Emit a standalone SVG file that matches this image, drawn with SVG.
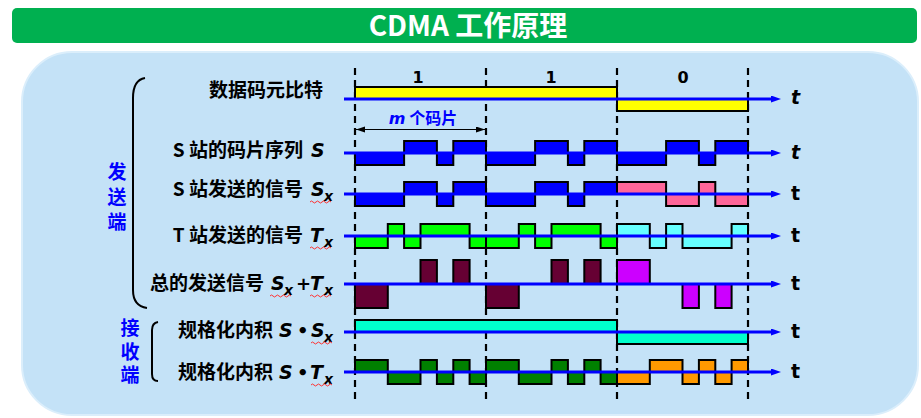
<svg xmlns="http://www.w3.org/2000/svg" width="921" height="418" viewBox="0 0 921 418">
<defs>
<style>
.cjk{font-family:"Noto Sans CJK SC","Noto Sans",sans-serif;font-weight:bold;font-size:19px;fill:#000}
.var{font-family:"DejaVu Sans",sans-serif;font-weight:bold;font-style:italic;font-size:19px;fill:#000}
.sub{font-family:"DejaVu Sans",sans-serif;font-weight:bold;font-style:italic;font-size:14px;fill:#000}
.op{font-family:"DejaVu Sans",sans-serif;font-weight:bold;font-size:18px;fill:#000}
.tl{font-family:"DejaVu Sans",sans-serif;font-weight:bold;font-size:19px;fill:#000}
.tli{font-family:"DejaVu Sans",sans-serif;font-weight:bold;font-style:italic;font-size:19px;fill:#000}
.bit{font-family:"DejaVu Sans",sans-serif;font-weight:bold;font-size:16px;fill:#000;text-anchor:middle}
.side{font-family:"Noto Sans CJK SC",sans-serif;font-weight:bold;font-size:19px;fill:#0000ff;writing-mode:vertical-rl}
.dash{stroke:#000;stroke-width:2.2;stroke-dasharray:7 5;fill:none}
.wave{stroke:#000;stroke-width:2;stroke-linejoin:miter}
.axis{stroke:#0000ff;stroke-width:3;fill:none;marker-end:url(#ah)}
.squig{stroke:#ff3030;stroke-width:1;fill:none}
.brace{stroke:#000;stroke-width:2;fill:none}
</style>
<marker id="ah" markerUnits="userSpaceOnUse" markerWidth="10" markerHeight="8" refX="0" refY="3.5" orient="auto">
<path d="M0,0 L10,3.5 L0,7 Z" fill="#0000ff"/>
</marker>
<marker id="sa" markerUnits="userSpaceOnUse" markerWidth="9" markerHeight="7" refX="9" refY="3" orient="auto-start-reverse">
<path d="M0,0 L9,3 L0,6 Z" fill="#000"/>
</marker>
</defs>

<g id="title">
<rect x="12" y="8" width="905" height="35" rx="5" fill="#00b050"/>
<text x="468" y="36" text-anchor="middle" font-family="Noto Sans CJK SC, sans-serif" font-weight="bold" font-size="28" fill="#fff">CDMA 工作原理</text>
</g>

<g id="panel">
<rect x="22" y="52" width="896" height="363" rx="50" fill="#c4e2f7" stroke="#dbeefb" stroke-width="2"/>
</g>

<g id="grid">
<line class="dash" x1="355" y1="68" x2="355" y2="404"/>
<line class="dash" x1="486" y1="68" x2="486" y2="404"/>
<line class="dash" x1="617" y1="68" x2="617" y2="404"/>
<line class="dash" x1="748" y1="68" x2="748" y2="404"/>
</g>

<g id="bit-labels">
<text class="bit" x="418" y="83">1</text>
<text class="bit" x="551" y="83">1</text>
<text class="bit" x="683" y="83">0</text>
</g>

<g id="chip-span">
<line x1="356" y1="129.5" x2="485" y2="129.5" stroke="#000" stroke-width="1" marker-start="url(#sa)" marker-end="url(#sa)"/>
<text x="423" y="124" text-anchor="middle" font-family="Noto Sans CJK SC, sans-serif" font-weight="bold" font-size="16" fill="#0000ff"><tspan font-family="DejaVu Sans, sans-serif" font-style="italic">m</tspan> 个码片</text>
</g>

<g id="waves">
<path class="wave" fill="#ffff00" d="M355,99 V87 H617 V111 H748 V99 Z"/>
<path class="wave" fill="#0000ff" d="M355,153 V165 H404.1 V141 H436.9 V165 H453.3 V141 H486 V153 Z M486,153 V165 H535.1 V141 H567.9 V165 H584.3 V141 H617 V153 Z M617,153 V165 H666.1 V141 H698.9 V165 H715.3 V141 H748 V153 Z"/>
<path class="wave" fill="#0000ff" d="M355,194 V206 H404.1 V182 H436.9 V206 H453.3 V182 H486 V194 Z M486,194 V206 H535.1 V182 H567.9 V206 H584.3 V182 H617 V194 Z"/>
<path class="wave" fill="#ff6699" d="M617,194 V182 H666.1 V206 H698.9 V182 H715.3 V206 H748 V194 Z"/>
<path class="wave" fill="#00ff00" d="M355,236 V248 H387.8 V224 H404.1 V248 H420.5 V224 H469.6 V248 H486 V236 Z M486,236 V248 H518.8 V224 H535.1 V248 H551.5 V224 H600.6 V248 H617 V236 Z"/>
<path class="wave" fill="#66ffff" d="M617,236 V224 H649.8 V248 H666.1 V224 H682.5 V248 H731.6 V224 H748 V236 Z"/>
<path class="wave" fill="#660033" d="M355,284 V308 H387.8 V284 Z M420.5,284 V260 H436.9 V284 Z M453.3,284 V260 H469.6 V284 Z M486,284 V308 H518.8 V284 Z M551.5,284 V260 H567.9 V284 Z M584.3,284 V260 H600.6 V284 Z"/>
<path class="wave" fill="#cc00ff" d="M617,284 V260 H649.8 V284 Z M682.5,284 V308 H698.9 V284 Z M715.3,284 V308 H731.6 V284 Z"/>
<path class="wave" fill="#00ffcc" d="M355,332 V320 H617 V344 H748 V332 Z"/>
<path class="wave" fill="#008000" d="M355,372 V360 H387.8 V384 H420.5 V360 H436.9 V384 H453.3 V360 H469.6 V384 H486 V372 Z M486,372 V360 H518.8 V384 H551.5 V360 H567.9 V384 H584.3 V360 H600.6 V384 H617 V372 Z"/>
<path class="wave" fill="#ff9900" d="M617,372 V384 H649.8 V360 H682.5 V384 H698.9 V360 H715.3 V384 H731.6 V360 H748 V372 Z"/>
</g>

<g id="connectors">
<line class="axis" x1="344" y1="99" x2="771" y2="99"/>
<line class="axis" x1="344" y1="153" x2="771" y2="153"/>
<line class="axis" x1="344" y1="194" x2="771" y2="194"/>
<line class="axis" x1="344" y1="236" x2="771" y2="236"/>
<line class="axis" x1="344" y1="284" x2="771" y2="284"/>
<line class="axis" x1="344" y1="332" x2="771" y2="332"/>
<line class="axis" x1="344" y1="372" x2="771" y2="372"/>
</g>

<g id="t-labels">
<text class="tli" x="791" y="104">t</text>
<text class="tli" x="791" y="159">t</text>
<text class="tl" x="791" y="200">t</text>
<text class="tl" x="791" y="242">t</text>
<text class="tl" x="791" y="290">t</text>
<text class="tl" x="791" y="338">t</text>
<text class="tl" x="791" y="378">t</text>
</g>

<g id="row-labels">
<text class="cjk" x="323" y="97" text-anchor="end">数据码元比特</text>
<text class="cjk" x="303" y="157" text-anchor="end">S 站的码片序列</text>
<text class="var" x="311" y="157">S</text>

<text class="cjk" x="303" y="196" text-anchor="end">S 站发送的信号</text>
<text class="var" x="311" y="196">S</text><text class="sub" x="324" y="201">x</text>

<text class="cjk" x="303" y="242" text-anchor="end">T 站发送的信号</text>
<text class="var" x="310" y="242">T</text><text class="sub" x="324" y="247">x</text>

<text class="cjk" x="264" y="290" text-anchor="end">总的发送信号</text>
<text class="var" x="271" y="290">S</text><text class="sub" x="284" y="295">x</text>
<text class="op" x="296" y="290">+</text>
<text class="var" x="310" y="290">T</text><text class="sub" x="324" y="295">x</text>

<text class="cjk" x="273" y="337" text-anchor="end">规格化内积</text>
<text class="var" x="279" y="337">S</text>
<text class="op" x="297" y="337">•</text>
<text class="var" x="311" y="337">S</text><text class="sub" x="324" y="342">x</text>

<text class="cjk" x="273" y="379" text-anchor="end">规格化内积</text>
<text class="var" x="279" y="379">S</text>
<text class="op" x="297" y="379">•</text>
<text class="var" x="310" y="379">T</text><text class="sub" x="324" y="384">x</text>

<path class="squig" d="M310,202 q1.5,-2 3,0 t3,0 t3,0 t3,0 t3,0 t3,0 t3,0"/>
<path class="squig" d="M310,248 q1.5,-2 3,0 t3,0 t3,0 t3,0 t3,0 t3,0 t3,0"/>
<path class="squig" d="M270,296 q1.5,-2 3,0 t3,0 t3,0 t3,0 t3,0 t3,0 t3,0"/>
<path class="squig" d="M310,296 q1.5,-2 3,0 t3,0 t3,0 t3,0 t3,0 t3,0 t3,0"/>
<path class="squig" d="M311,343 q1.5,-2 3,0 t3,0 t3,0 t3,0 t3,0 t3,0 t3,0"/>
<path class="squig" d="M311,385 q1.5,-2 3,0 t3,0 t3,0 t3,0 t3,0 t3,0 t3,0"/>
</g>

<g id="sender">
<path class="brace" d="M145,78 Q133,80 133,98 V290 Q133,306 147,308"/>
<text class="side" x="117" y="162.5" letter-spacing="6">发送端</text>
</g>

<g id="receiver">
<path class="brace" stroke-width="1.6" d="M158,322 Q152,323 152,330 V374 Q152,381 158,381"/>
<text class="side" x="130" y="318.5" letter-spacing="4.5">接收端</text>
</g>
</svg>
